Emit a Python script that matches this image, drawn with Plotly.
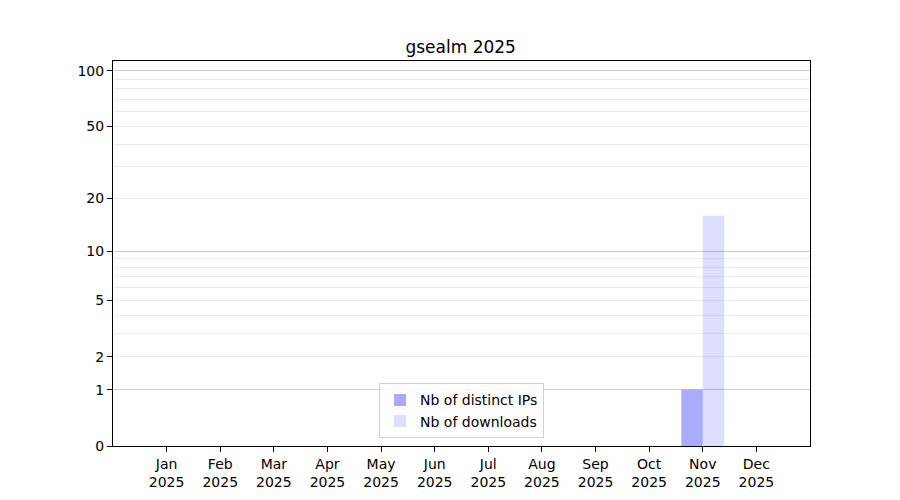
import math

import plotly.graph_objects as go

months = ["Jan", "Feb", "Mar", "Apr", "May", "Jun", "Jul", "Aug", "Sep", "Oct", "Nov", "Dec"]
year = 2025
distinct_ips = [0, 0, 0, 0, 0, 0, 0, 0, 0, 0, 1, 0]
downloads = [0, 0, 0, 0, 0, 0, 0, 0, 0, 0, 16, 0]
y_ticks = [0, 1, 2, 5, 10, 20, 50, 100]
y_minor = [2, 3, 4, 5, 6, 7, 8, 9, 20, 30, 40, 50, 60, 70, 80, 90]
y_major_grid = [1, 10, 100]
y_top = 113

# axis is log(1 + n): bars start at 1 and every value is shifted by one
shift = 1
x = list(range(len(months)))
font = dict(family="DejaVu Sans", size=14, color="black")

fig = go.Figure()
fig.add_trace(go.Bar(x=x, y=distinct_ips, base=shift, name="Nb of distinct IPs",
                     marker=dict(color="rgba(0,0,255,0.333)", line=dict(width=0))))
fig.add_trace(go.Bar(x=x, y=downloads, base=shift, name="Nb of downloads",
                     marker=dict(color="rgba(0,0,255,0.133)", line=dict(width=0))))

y_range = [0, math.log10(y_top + shift)]

fig.update_layout(
    width=900, height=500,
    margin=dict(l=105, r=98, t=53, b=62),
    paper_bgcolor="white", plot_bgcolor="white",
    font=font,
    barmode="group", bargap=0.2, bargroupgap=0,
    title=dict(text=f"gsealm {year}", x=0.503, xanchor="center", y=0.922, yanchor="middle",
               font=dict(family="DejaVu Sans", size=17, color="black")),
    xaxis=dict(
        range=[-1, 12], tickmode="array", tickvals=x,
        ticktext=[f"{m}<br>{year}" for m in months],
        ticks="outside", ticklen=5, tickcolor="black",
        showline=True, mirror=True, linecolor="black", linewidth=1,
        showgrid=False, zeroline=False,
    ),
    yaxis=dict(
        type="log", range=y_range, tickmode="array",
        tickvals=[v + shift for v in y_ticks], ticktext=[str(v) for v in y_ticks],
        ticks="outside", ticklen=5, tickcolor="black",
        showline=True, mirror=True, linecolor="black", linewidth=1,
        showgrid=False, zeroline=False,
        minor=dict(tickvals=[v + shift for v in y_minor], showgrid=True,
                   gridcolor="#ececec", gridwidth=1, ticklen=0),
    ),
    yaxis2=dict(
        type="log", range=y_range, overlaying="y", tickmode="array",
        tickvals=[v + shift for v in y_major_grid], showticklabels=False,
        showgrid=True, gridcolor="#cccccc", gridwidth=1, zeroline=False, ticks="",
    ),
    legend=dict(x=0.5, xanchor="center", y=0.02, yanchor="bottom",
                bordercolor="#d0d0d0", borderwidth=1, bgcolor="rgba(255,255,255,0.8)",
                font=dict(family="DejaVu Sans", size=14, color="black"),
                tracegroupgap=0),
    showlegend=True,
)

# invisible trace so the overlay axis gets drawn
fig.add_trace(go.Scatter(x=[None], y=[None], yaxis="y2", showlegend=False, hoverinfo="skip"))

fig.write_html("out.html")
